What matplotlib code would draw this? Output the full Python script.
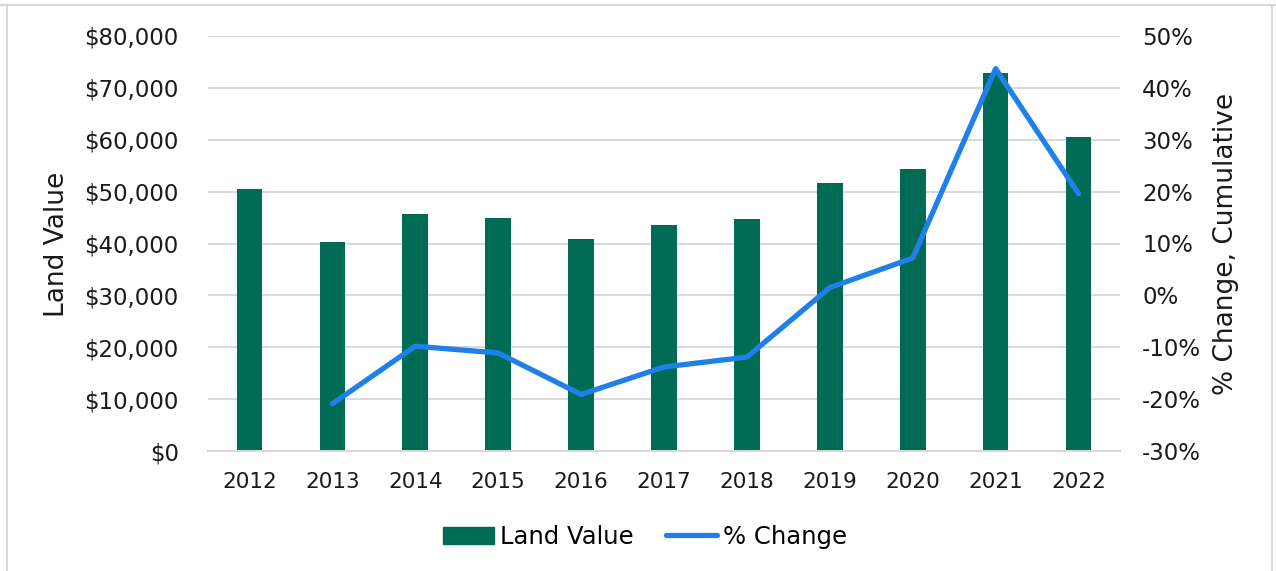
import matplotlib.pyplot as plt
import numpy as np
from matplotlib.ticker import FuncFormatter
from matplotlib.patches import Rectangle
from matplotlib.lines import Line2D

years = ['2012', '2013', '2014', '2015', '2016', '2017', '2018', '2019', '2020', '2021', '2022']
land_value = [50600, 40200, 45700, 45000, 40900, 43600, 44700, 51600, 54400, 72800, 60600]
pct_change = [np.nan, -20.9, -9.8, -11.1, -19.1, -13.8, -11.9, 1.5, 7.2, 43.7, 19.6]

bar_color = '#006B54'
line_color = '#1F80EA'
text_color = '#1a1a1a'

plt.rcParams['font.family'] = ['DejaVu Sans']
plt.rcParams['font.size'] = 16.5

fig = plt.figure(figsize=(12.76, 5.71), dpi=100)
ax = fig.add_axes([208 / 1276, 1 - 451 / 571, 912 / 1276, 415 / 571])
ax2 = ax.twinx()

ind = np.arange(len(years))
bars = ax.bar(ind, land_value, 0.31, color=bar_color, zorder=2)
line, = ax2.plot(ind, pct_change, color=line_color, lw=3.8,
                 solid_capstyle='round', solid_joinstyle='round', zorder=3)

ax.set_xlim(-0.5, len(years) - 0.5)
ax.set_ylim(0, 80000)
ax.set_yticks(np.arange(0, 80001, 10000))
ax.yaxis.set_major_formatter(FuncFormatter(lambda v, p: f'${v:,.0f}'))
ax2.set_ylim(-30, 50)
ax2.set_yticks(np.arange(-30, 51, 10))
ax2.yaxis.set_major_formatter(FuncFormatter(lambda v, p: f'{v:.0f}%'))

ax.set_xticks(ind)
ax.set_xticklabels(years, fontsize=15.5)
ax.grid(axis='y', color='#d9d9d9', lw=1.4, zorder=0)
ax.set_axisbelow(True)

for a in (ax, ax2):
    for s in ('top', 'left', 'right'):
        a.spines[s].set_visible(False)
    a.spines['bottom'].set_color('#d9d9d9')
    a.spines['bottom'].set_linewidth(1.4)
    a.tick_params(length=0, colors=text_color)
ax.tick_params(axis='y', pad=21)
ax.tick_params(axis='x', pad=15)
ax2.tick_params(axis='y', pad=16)
for lab in ax2.get_yticklabels():
    lab.set_ha('left')

# axis titles placed on the figure
fig.text(57 / 1276, 1 - 244 / 571, 'Land Value', rotation=90, fontsize=19,
         ha='center', va='center', color=text_color)
fig.text(1226 / 1276, 1 - 244 / 571, '% Change, Cumulative', rotation=90,
         fontsize=19, ha='center', va='center', color=text_color)

handles = [Rectangle((0, 0), 1, 1, color=bar_color),
           Line2D([0], [0], color=line_color, lw=3.8, solid_capstyle='round')]
fig.legend(handles, ['Land Value', '% Change'], loc='center',
           bbox_to_anchor=(645 / 1276, 1 - 537 / 571), ncol=2, frameon=False,
           fontsize=17.5, handlelength=2.1, handletextpad=0.25,
           columnspacing=1.3)

# frame: top line across, sides run off the bottom
border = dict(color='#d9d9d9', lw=1.5, transform=fig.transFigure)
fig.lines.append(Line2D([0, 1], [1 - 5 / 571] * 2, **border))
fig.lines.append(Line2D([7 / 1276] * 2, [0, 1 - 5 / 571], **border))
fig.lines.append(Line2D([1272 / 1276] * 2, [0, 1 - 5 / 571], **border))

fig.savefig('out.png', dpi=100)
